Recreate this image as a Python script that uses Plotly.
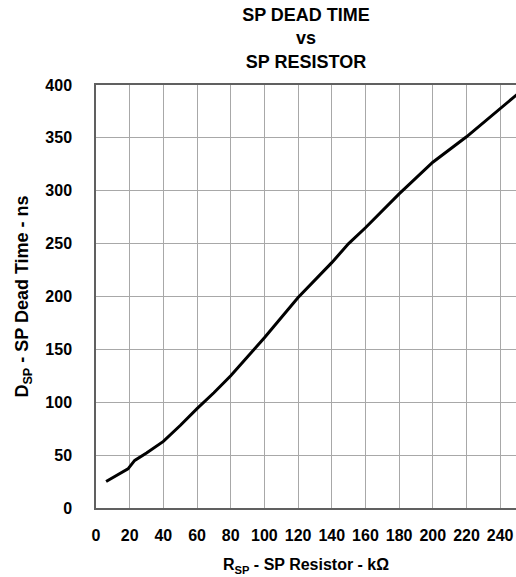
import plotly.graph_objects as go

# Data
resistor_kohm = [6, 19, 23, 30, 40, 50, 60, 70, 80, 92, 100, 120, 140, 150, 160, 180, 200, 220, 240, 250]
dead_time_ns = [25, 37, 45, 52, 63, 78, 94, 109, 125, 147, 161, 199, 232, 250, 265, 297, 327, 351, 378, 391]

x_ticks = list(range(0, 241, 20))
y_ticks = list(range(0, 401, 50))

FONT = "Liberation Sans, Arial, sans-serif"

fig = go.Figure()
fig.add_trace(go.Scatter(
    x=resistor_kohm, y=dead_time_ns, mode="lines",
    line=dict(color="black", width=3), showlegend=False, hoverinfo="skip",
))

fig.update_layout(
    width=516, height=577,
    margin=dict(l=96, r=0, t=85, b=69),
    paper_bgcolor="white", plot_bgcolor="white",
    font=dict(family=FONT, color="black"),
    title=dict(
        text="<b>SP DEAD TIME<br>vs<br>SP RESISTOR</b>",
        x=0.5, xref="paper", xanchor="center",
        y=0.964, yref="container", yanchor="top",
        font=dict(size=18, family=FONT, color="black"),
    ),
    xaxis=dict(
        range=[0, 249.4], tickvals=x_ticks, ticktext=[str(v) for v in x_ticks],
        showgrid=True, gridcolor="#a8a8a8", gridwidth=1,
        showline=True, linecolor="#606060", linewidth=1.5, mirror=True,
        zeroline=False, ticks="", ticklabelstandoff=12,
        tickfont=dict(size=16, family=FONT, color="black", weight="bold"),
        title=dict(text="<b>R<sub>SP</sub> - SP Resistor - kΩ</b>",
                   font=dict(size=16, family=FONT, color="black"), standoff=16),
    ),
    yaxis=dict(
        range=[0, 400], tickvals=y_ticks, ticktext=[str(v) for v in y_ticks],
        showgrid=True, gridcolor="#a8a8a8", gridwidth=1,
        showline=True, linecolor="#606060", linewidth=1.5, mirror=False,
        zeroline=False, ticks="", ticklabelstandoff=19,
        tickfont=dict(size=16, family=FONT, color="black", weight="bold"),
        title=dict(text="<b>D<sub>SP</sub> - SP Dead Time - ns</b>",
                   font=dict(size=18, family=FONT, color="black"), standoff=12),
    ),
)

fig.write_html("out.html", config={"displayModeBar": False},
               post_script="document.body.style.margin='0';")
